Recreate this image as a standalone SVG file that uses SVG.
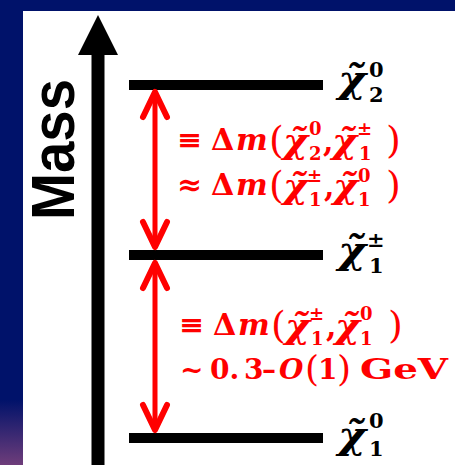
<svg xmlns="http://www.w3.org/2000/svg" width="455" height="465" viewBox="0 0 455 465">
<defs>
<linearGradient id="bg" x1="0" y1="0" x2="0" y2="1">
<stop offset="0" stop-color="#00126a"/>
<stop offset="0.86" stop-color="#00126a"/>
<stop offset="1" stop-color="#6e3d7a"/>
</linearGradient>
<marker id="head" viewBox="-30 -16 34 32" refX="0" refY="0" markerWidth="34" markerHeight="32" markerUnits="userSpaceOnUse" orient="auto-start-reverse" overflow="visible">
<path d="M-25,-12 L0,0 L-25,12" fill="none" stroke="#ff0000" stroke-width="6" stroke-linecap="round" stroke-linejoin="round"/>
</marker>
<style>
.lvl{stroke:#000;stroke-width:10}
.m{font-family:"DejaVu Serif","Liberation Serif",serif;font-weight:bold;font-size:30px}
.chi{font-family:"DejaVu Serif","Liberation Serif",serif;font-weight:bold;font-style:italic}
.sc{font-family:"DejaVu Serif","Liberation Serif",serif;font-weight:bold}
.it{font-style:italic}
.p{font-weight:normal;font-size:38px;font-style:normal}
.ss{font-size:18px}
.k{fill:#000}
.r{fill:#ff0000}
.arr{stroke:#ff0000;stroke-width:5;fill:none;marker-start:url(#head);marker-end:url(#head)}
</style>
</defs>
<rect x="0" y="0" width="455" height="465" fill="#00126a"/>
<rect x="0" y="0" width="23" height="465" fill="url(#bg)"/>
<rect x="23" y="11" width="432" height="454" fill="#ffffff"/>

<g id="axis">
<rect x="91.5" y="50" width="13" height="415" fill="#000"/>
<polygon points="98,15 78,55 118,55" fill="#000"/>
<text transform="translate(74,220) rotate(-90)" x="0" y="0" font-family="Liberation Sans, Arial, sans-serif" font-weight="bold" font-size="62" textLength="141" lengthAdjust="spacingAndGlyphs" fill="#000">Mass</text>
</g>

<g id="chi20">
<line class="lvl" x1="129" y1="85" x2="323" y2="85"/>
<text class="chi k" transform="translate(338,92) scale(1.12,1)" font-size="38">χ&#x303;</text>
<text class="sc k" x="369" y="77" font-size="21">0</text>
<text class="sc k" x="369" y="102" font-size="21">2</text>
</g>

<g id="chipm1">
<line class="lvl" x1="129" y1="255" x2="323" y2="255"/>
<text class="chi k" transform="translate(338,263) scale(1.12,1)" font-size="38">χ&#x303;</text>
<text class="sc k" x="367" y="247" font-size="21">±</text>
<text class="sc k" x="369" y="273" font-size="21">1</text>
</g>

<g id="chi10">
<line class="lvl" x1="129" y1="438" x2="323" y2="438"/>
<text class="chi k" transform="translate(338,448) scale(1.12,1)" font-size="38">χ&#x303;</text>
<text class="sc k" x="369" y="428" font-size="21">0</text>
<text class="sc k" x="369" y="456" font-size="21">1</text>
</g>

<g id="connectors">
<line class="arr" x1="155" y1="92" x2="155" y2="247"/>
<line class="arr" x1="155" y1="263" x2="155" y2="430"/>
</g>

<g id="label-upper" class="r">
<text class="m"><tspan x="177" y="150">≡</tspan><tspan x="211" y="150">Δ</tspan><tspan class="it" x="236" y="150">m</tspan><tspan class="p" x="269" y="153">(</tspan><tspan class="ss" x="309" y="135">0</tspan><tspan class="ss" x="309" y="160">2</tspan><tspan x="323" y="152">,</tspan><tspan class="ss" x="357" y="135">±</tspan><tspan class="ss" x="359" y="160">1</tspan><tspan class="p" x="386" y="153">)</tspan></text>
<text class="chi" transform="translate(283,153) scale(1.12,1)" font-size="34">χ&#x303;</text>
<text class="chi" transform="translate(332,153) scale(1.12,1)" font-size="34">χ&#x303;</text>

<text class="m"><tspan x="177" y="195">≈</tspan><tspan x="211" y="195">Δ</tspan><tspan class="it" x="236" y="195">m</tspan><tspan class="p" x="269" y="198">(</tspan><tspan class="ss" x="307" y="182">±</tspan><tspan class="ss" x="309" y="206">1</tspan><tspan x="324" y="197">,</tspan><tspan class="ss" x="358" y="182">0</tspan><tspan class="ss" x="358" y="206">1</tspan><tspan class="p" x="386" y="198">)</tspan></text>
<text class="chi" transform="translate(283,198) scale(1.12,1)" font-size="34">χ&#x303;</text>
<text class="chi" transform="translate(333,198) scale(1.12,1)" font-size="34">χ&#x303;</text>
</g>

<g id="label-lower" class="r">
<text class="m"><tspan x="179" y="335">≡</tspan><tspan x="213" y="335">Δ</tspan><tspan class="it" x="238" y="335">m</tspan><tspan class="p" x="271" y="338">(</tspan><tspan class="ss" x="309" y="320">±</tspan><tspan class="ss" x="311" y="345">1</tspan><tspan x="326" y="337">,</tspan><tspan class="ss" x="360" y="320">0</tspan><tspan class="ss" x="360" y="345">1</tspan><tspan class="p" x="388" y="338">)</tspan></text>
<text class="chi" transform="translate(285,338) scale(1.12,1)" font-size="34">χ&#x303;</text>
<text class="chi" transform="translate(335,338) scale(1.12,1)" font-size="34">χ&#x303;</text>

<text class="m"><tspan x="180" y="379" style="font-size:28px">~</tspan><tspan x="210" y="379" style="font-size:28px">0.</tspan><tspan x="244" y="379" style="font-size:28px">3</tspan><tspan x="262" y="379" style="font-size:28px">–</tspan><tspan class="it" x="279" y="379" style="font-size:28px">O</tspan><tspan class="p" x="305" y="381" style="font-size:36px">(</tspan><tspan x="318" y="379" style="font-size:28px">1</tspan><tspan class="p" x="337" y="381" style="font-size:36px">)</tspan></text>
<text class="m" x="360" y="379" textLength="88" lengthAdjust="spacingAndGlyphs" style="font-size:28px">GeV</text>
</g>
</svg>
